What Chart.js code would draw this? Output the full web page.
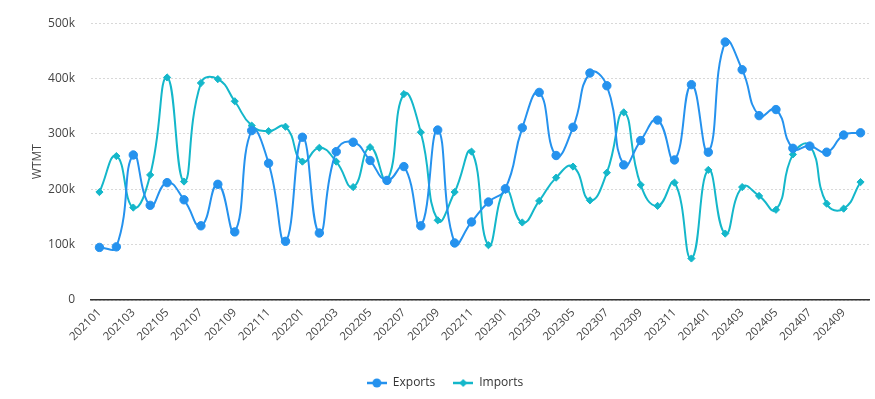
<!DOCTYPE html>
<html>
<head>
<meta charset="utf-8">
<script src="https://cdn.jsdelivr.net/npm/chart.js@4.4.1/dist/chart.umd.min.js"></script>
<style>
html,body{margin:0;padding:0;background:#fff;}
#wrap{width:875px;height:399px;position:relative;}
</style>
</head>
<body>
<div id="wrap"><canvas id="c"></canvas></div>
<script>
const categories = [
 "202101","202102","202103","202104","202105","202106","202107","202108","202109","202110","202111","202112",
 "202201","202202","202203","202204","202205","202206","202207","202208","202209","202210","202211","202212",
 "202301","202302","202303","202304","202305","202306","202307","202308","202309","202310","202311","202312",
 "202401","202402","202403","202404","202405","202406","202407","202408","202409","202410"
];
const exportsValues = [
 95000,96000,262000,171000,212000,181000,134000,209000,123000,306000,247000,106000,
 294000,121000,268000,285000,252000,216000,241000,134000,307000,103000,141000,177000,
 201000,311000,375000,261000,312000,410000,387000,244000,288000,325000,253000,389000,
 267000,466000,416000,333000,344000,274000,278000,267000,298000,302000
];
const importsValues = [
 195000,260000,167000,226000,402000,214000,392000,399000,359000,315000,305000,313000,
 250000,275000,250000,204000,276000,216000,372000,303000,144000,195000,268000,99000,
 199000,140000,179000,221000,241000,180000,230000,339000,208000,170000,212000,75000,
 235000,120000,204000,188000,163000,263000,279000,174000,165000,213000
];
const yTicks = [0,100000,200000,300000,400000,500000];

const EXP_COLOR = '#2592EE';
const IMP_COLOR = '#14B7CA';

function legendIcon(color, style){
  const cv = document.createElement('canvas');
  cv.width = 20; cv.height = 12;
  const g = cv.getContext('2d');
  g.strokeStyle = color; g.lineWidth = 2.5;
  g.beginPath(); g.moveTo(0,6); g.lineTo(20,6); g.stroke();
  g.fillStyle = color;
  g.beginPath();
  if(style==='circle'){ g.arc(10,6,4.5,0,Math.PI*2); }
  else { g.moveTo(10,2); g.lineTo(14,6); g.lineTo(10,10); g.lineTo(6,6); g.closePath(); }
  g.fill();
  return cv;
}
const expIcon = legendIcon(EXP_COLOR,'circle');
const impIcon = legendIcon(IMP_COLOR,'diamond');

const FONT = "'Open Sans', 'Noto Sans', sans-serif";

new Chart(document.getElementById('c'), {
  type: 'line',
  data: {
    labels: categories,
    datasets: [
      {
        label: 'Exports',
        data: exportsValues,
        borderColor: EXP_COLOR,
        backgroundColor: EXP_COLOR,
        borderWidth: 2,
        pointStyle: 'circle',
        pointRadius: 4.2,
        pointBorderWidth: 1,
        pointHoverRadius: 5,
        tension: 0.5,
        fill: false
      },
      {
        label: 'Imports',
        data: importsValues,
        borderColor: IMP_COLOR,
        backgroundColor: IMP_COLOR,
        borderWidth: 2,
        pointStyle: 'rectRot',
        pointRadius: 3.6,
        pointBorderWidth: 1,
        pointHoverRadius: 4.5,
        tension: 0.5,
        fill: false
      }
    ]
  },
  options: {
    responsive: true,
    maintainAspectRatio: false,
    animation: false,
    layout: { padding: { left: 20, right: 5, top: 22, bottom: 0 } },
    plugins: {
      tooltip: { enabled: false },
      legend: {
        position: 'bottom',
        labels: {
          usePointStyle: true,
          pointStyleWidth: 20,
          padding: 18,
          color: '#333',
          font: { family: FONT, size: 12 },
          generateLabels: function(chart){
            return chart.data.datasets.map((ds,i)=>({
              text: ds.label,
              pointStyle: i===0 ? expIcon : impIcon,
              fillStyle: ds.borderColor,
              strokeStyle: ds.borderColor,
              lineWidth: 0,
              hidden: !chart.isDatasetVisible(i),
              datasetIndex: i,
              fontColor: '#333'
            }));
          }
        }
      }
    },
    scales: {
      x: {
        offset: true,
        grid: { display: false, drawTicks: false },
        border: { display: true, color: '#333', width: 1.5 },
        ticks: {
          autoSkip: false,
          maxRotation: 45,
          minRotation: 45,
          padding: 6,
          color: '#444',
          font: { family: FONT, size: 11.5 },
          callback: function(v, i){ return i % 2 === 0 ? categories[i] : ''; }
        },
        afterFit: function(s){ s.height = 59; s.paddingRight = 0; s.paddingLeft = 0; }
      },
      y: {
        min: 0,
        max: 500000,
        afterBuildTicks: function(s){ s.ticks = yTicks.map(v=>({value:v})); },
        grid: { color: '#d8d8d8', drawTicks: false, lineWidth: 1 },
        border: { display: false, dash: [2,2] },
        ticks: {
          padding: 16,
          color: '#444',
          font: { family: FONT, size: 12 },
          callback: function(v){ return v === 0 ? '0' : (v/1000) + 'k'; }
        },
        title: {
          display: true,
          text: 'WTMT',
          color: '#444',
          font: { family: FONT, size: 12 },
          padding: { top: 10, bottom: 0 }
        },
        afterFit: function(s){ s.width = 71; }
      }
    }
  }
});
</script>
</body>
</html>
